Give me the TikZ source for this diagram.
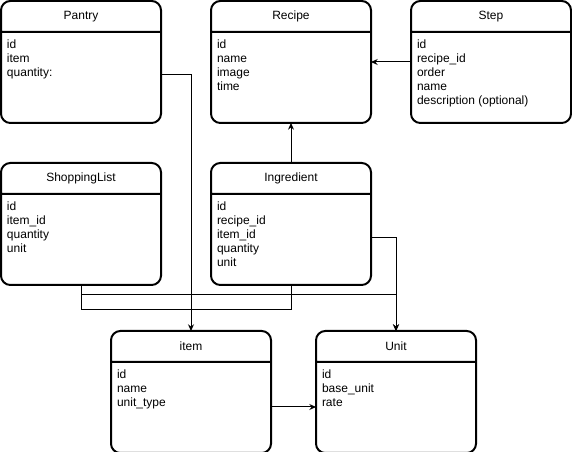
\documentclass[tikz,border=0pt]{standalone}
\usepackage{fontspec}
\setmainfont{Liberation Sans}
\usetikzlibrary{shapes,positioning,calc,arrows.meta}

\newcommand{\header}[1]{\parbox[c][21.75pt]{120pt}{\centering #1}}
\newcommand{\fields}[1]{\begin{minipage}[t][66.75pt]{120pt}\vspace*{5pt}\leftskip=4.5pt #1\end{minipage}}

\begin{document}
\begin{tikzpicture}[x=0.75pt, y=-0.75pt,
  entity/.style={rectangle split, rectangle split parts=2, draw, line width=1.5pt, rounded corners=7pt, inner sep=0pt, outer sep=0pt, anchor=north west, font=\fontsize{9}{10.5}\selectfont},
  conn/.style={line width=0.75pt, -{Stealth[length=5pt,width=4.5pt]}},
  link/.style={line width=0.75pt}]

\useasboundingbox (0,0) rectangle (572,452);

% TABLES

\node [entity] at (1,1) (pantry)
{\header{Pantry}
\nodepart{two}\fields{id\\ item\\ quantity:}
};

\node [entity, right=37.5pt of pantry] (recipe)
{\header{Recipe}
\nodepart{two}\fields{id\\ name\\ image\\ time}
};

\node [entity, right=30pt of recipe] (step)
{\header{Step}
\nodepart{two}\fields{id\\ recipe\_id\\ order\\ name\\ description (optional)}
};

\node [entity, below=30pt of pantry] (shopping)
{\header{ShoppingList}
\nodepart{two}\fields{id\\ item\_id\\ quantity\\ unit}
};

\node [entity, below=30pt of recipe] (ingredient)
{\header{Ingredient}
\nodepart{two}\fields{id\\ recipe\_id\\ item\_id\\ quantity\\ unit}
};

\node [entity] at (111,331) (item)
{\header{item}
\nodepart{two}\fields{id\\ name\\ unit\_type}
};

\node [entity, right=33.75pt of item] (unit)
{\header{Unit}
\nodepart{two}\fields{id\\ base\_unit\\ rate}
};

% LINKS

\draw [conn] ($(pantry.north east)+(0,74)$) -| (item.north);
\draw [conn] (step.west) -- (recipe.east);
\draw [conn] (ingredient.north) -- (recipe.south);
\draw [conn] ($(ingredient.north east)+(0,75)$) -| (unit.north);
\draw [conn] (shopping.south) -- ++(0,10) -| (unit.north);
\draw [link] (ingredient.south) -- ++(0,25) -| (shopping.south);
\draw [conn] ($(item.north east)+(0,76)$) -- ($(unit.north west)+(0,76)$);

\end{tikzpicture}
\end{document}
